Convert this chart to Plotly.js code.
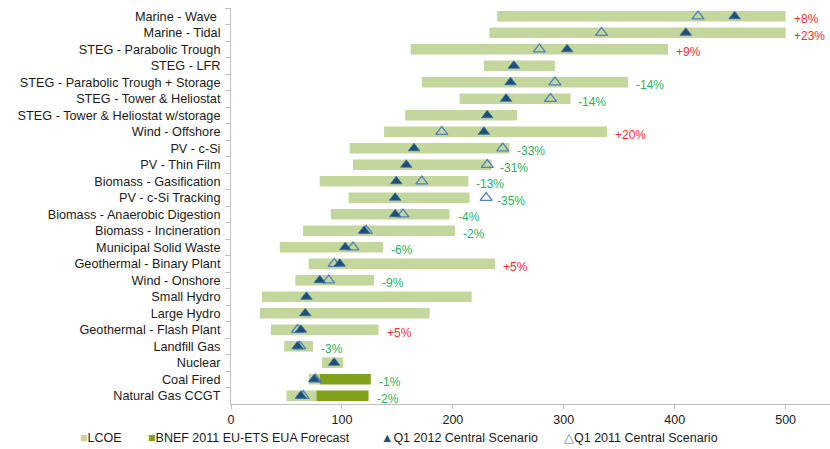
<!DOCTYPE html>
<html>
<head>
<meta charset="utf-8">
<script src="https://cdn.plot.ly/plotly-3.0.1.min.js"></script>
<style>html,body{margin:0;padding:0;background:#fff;}#chart{width:830px;height:449px;}</style>
</head>
<body>
<div id="chart"></div>
<script>
const categories = [
  "Marine - Wave ", "Marine - Tidal", "STEG - Parabolic Trough", "STEG - LFR",
  "STEG - Parabolic Trough + Storage", "STEG - Tower & Heliostat", "STEG - Tower & Heliostat w/storage",
  "Wind - Offshore", "PV - c-Si", "PV - Thin Film", "Biomass - Gasification", "PV - c-Si Tracking",
  "Biomass - Anaerobic Digestion", "Biomass - Incineration", "Municipal Solid Waste",
  "Geothermal - Binary Plant", "Wind - Onshore", "Small Hydro", "Large Hydro",
  "Geothermal - Flash Plant", "Landfill Gas", "Nuclear", "Coal Fired", "Natural Gas CCGT"
];
const lcoeLow  = [240, 233, 162, 228, 172, 206, 157, 138, 107, 110, 80, 106, 90, 65, 44, 70, 58, 28, 26, 36, 48, 82, 70, 50];
const lcoeHigh = [500, 500, 394, 292, 358, 306, 258, 339, 251, 235, 214, 215, 197, 202, 137, 238, 129, 217, 179, 133, 74, 101, 80, 77];
const bnefLow  = [null, null, null, null, null, null, null, null, null, null, null, null, null, null, null, null, null, null, null, null, null, null, 80, 77];
const bnefHigh = [null, null, null, null, null, null, null, null, null, null, null, null, null, null, null, null, null, null, null, null, null, null, 126, 124];
const q2012 = [454, 410, 303, 255, 252, 248, 231, 228, 165, 158, 149, 148, 148, 120, 103, 98, 80, 68, 67, 63, 60, 93, 75, 63];
const q2011 = [421, 334, 278, null, 292, 288, null, 190, 245, 231, 172, 230, 155, 122, 110, 93, 88, null, null, 60, 62, null, 76, 65];
const changeLabels = ["+8%", "+23%", "+9%", "", "-14%", "-14%", "", "+20%", "-33%", "-31%", "-13%", "-35%",
  "-4%", "-2%", "-6%", "+5%", "-9%", "", "", "+5%", "-3%", "", "-1%", "-2%"];
const xTicks = [0, 100, 200, 300, 400, 500];
const legendNames = ["LCOE", "BNEF 2011 EU-ETS EUA Forecast", "Q1 2012 Central Scenario", "Q1 2011 Central Scenario"];

const FONT = '"Liberation Sans", Arial, sans-serif';
const C_LCOE = '#c3d69b', C_BNEF = '#7fa11a', C_Q12 = '#1f4e79', C_Q11 = '#4f81bd';
const C_UP = '#ff2a2a', C_DOWN = '#1fb35e';

const traces = [
  {
    type: 'bar', orientation: 'h', name: legendNames[0],
    y: categories, base: lcoeLow, x: lcoeLow.map((v, i) => lcoeHigh[i] - v),
    marker: {color: C_LCOE}, width: 0.64, hoverinfo: 'skip'
  },
  {
    type: 'bar', orientation: 'h', name: legendNames[1],
    y: categories, base: bnefLow, x: bnefLow.map((v, i) => v == null ? null : bnefHigh[i] - v),
    marker: {color: C_BNEF}, width: 0.64, hoverinfo: 'skip'
  },
  {
    type: 'scatter', mode: 'markers', name: legendNames[3],
    y: categories, x: q2011,
    marker: {symbol: 'triangle-up-open', size: 10.5, color: C_Q11, line: {width: 1.3, color: C_Q11}}
  },
  {
    type: 'scatter', mode: 'markers', name: legendNames[2],
    y: categories, x: q2012,
    marker: {symbol: 'triangle-up', size: 10, color: C_Q12, line: {width: 0.8, color: '#3a6ea5'}}
  }
];

const annotations = [];
categories.forEach((c, i) => {
  const t = changeLabels[i];
  if (!t) return;
  const anchor = Math.max(lcoeHigh[i], bnefHigh[i] || 0, (q2011[i] || 0) + 3);
  annotations.push({
    x: anchor, y: c, xref: 'x', yref: 'y', text: t, showarrow: false,
    xanchor: 'left', yanchor: 'middle', xshift: 6, yshift: -3,
    font: {family: FONT, size: 12, color: t.charAt(0) === '+' ? C_UP : C_DOWN}
  });
});

// legend drawn as text row
const legendItems = [
  {px: 78, sym: '■', col: C_LCOE, label: legendNames[0]},
  {px: 146, sym: '■', col: C_BNEF, label: legendNames[1]},
  {px: 379, sym: '▲', col: C_Q12, label: legendNames[2]},
  {px: 562, sym: '△', col: C_Q11, label: legendNames[3]}
];
const L = 231, W = 599;
legendItems.forEach(it => {
  annotations.push({
    xref: 'paper', yref: 'paper', x: (it.px - L) / W, y: -34 / 396,
    xanchor: 'left', yanchor: 'middle', showarrow: false,
    text: `<span style="color:${it.col}">${it.sym}</span>${it.label}`,
    font: {family: FONT, size: 12.5, color: '#1a1a1a'}
  });
});

const layout = {
  width: 830, height: 449,
  margin: {l: 231, r: 0, t: 8, b: 45, pad: 0},
  paper_bgcolor: '#fff', plot_bgcolor: '#fff',
  barmode: 'overlay', bargap: 0.36,
  showlegend: false,
  font: {family: FONT, size: 12.5, color: '#1a1a1a'},
  xaxis: {
    range: [0, 540], tickvals: xTicks, ticktext: xTicks.map(String),
    ticks: 'outside', ticklen: 4, tickcolor: '#bfbfbf', tickwidth: 1,
    showline: true, linecolor: '#bfbfbf', linewidth: 1,
    showgrid: false, zeroline: false,
    tickfont: {family: FONT, size: 12.5, color: '#1a1a1a'}
  },
  yaxis: {
    type: 'category', range: [categories.length - 0.5, -0.5],
    tickmode: 'linear', tick0: 0, dtick: 1,
    ticks: 'outside', ticklen: 5, tickcolor: '#bfbfbf', tickwidth: 1, tickson: 'boundaries',
    showline: true, linecolor: '#bfbfbf', linewidth: 1,
    showgrid: false, zeroline: false, ticklabelstandoff: 7,
    tickfont: {family: FONT, size: 12.7, color: '#1a1a1a'}
  },
  annotations: annotations
};

Plotly.newPlot('chart', traces, layout, {displayModeBar: false, staticPlot: true});
</script>
</body>
</html>
